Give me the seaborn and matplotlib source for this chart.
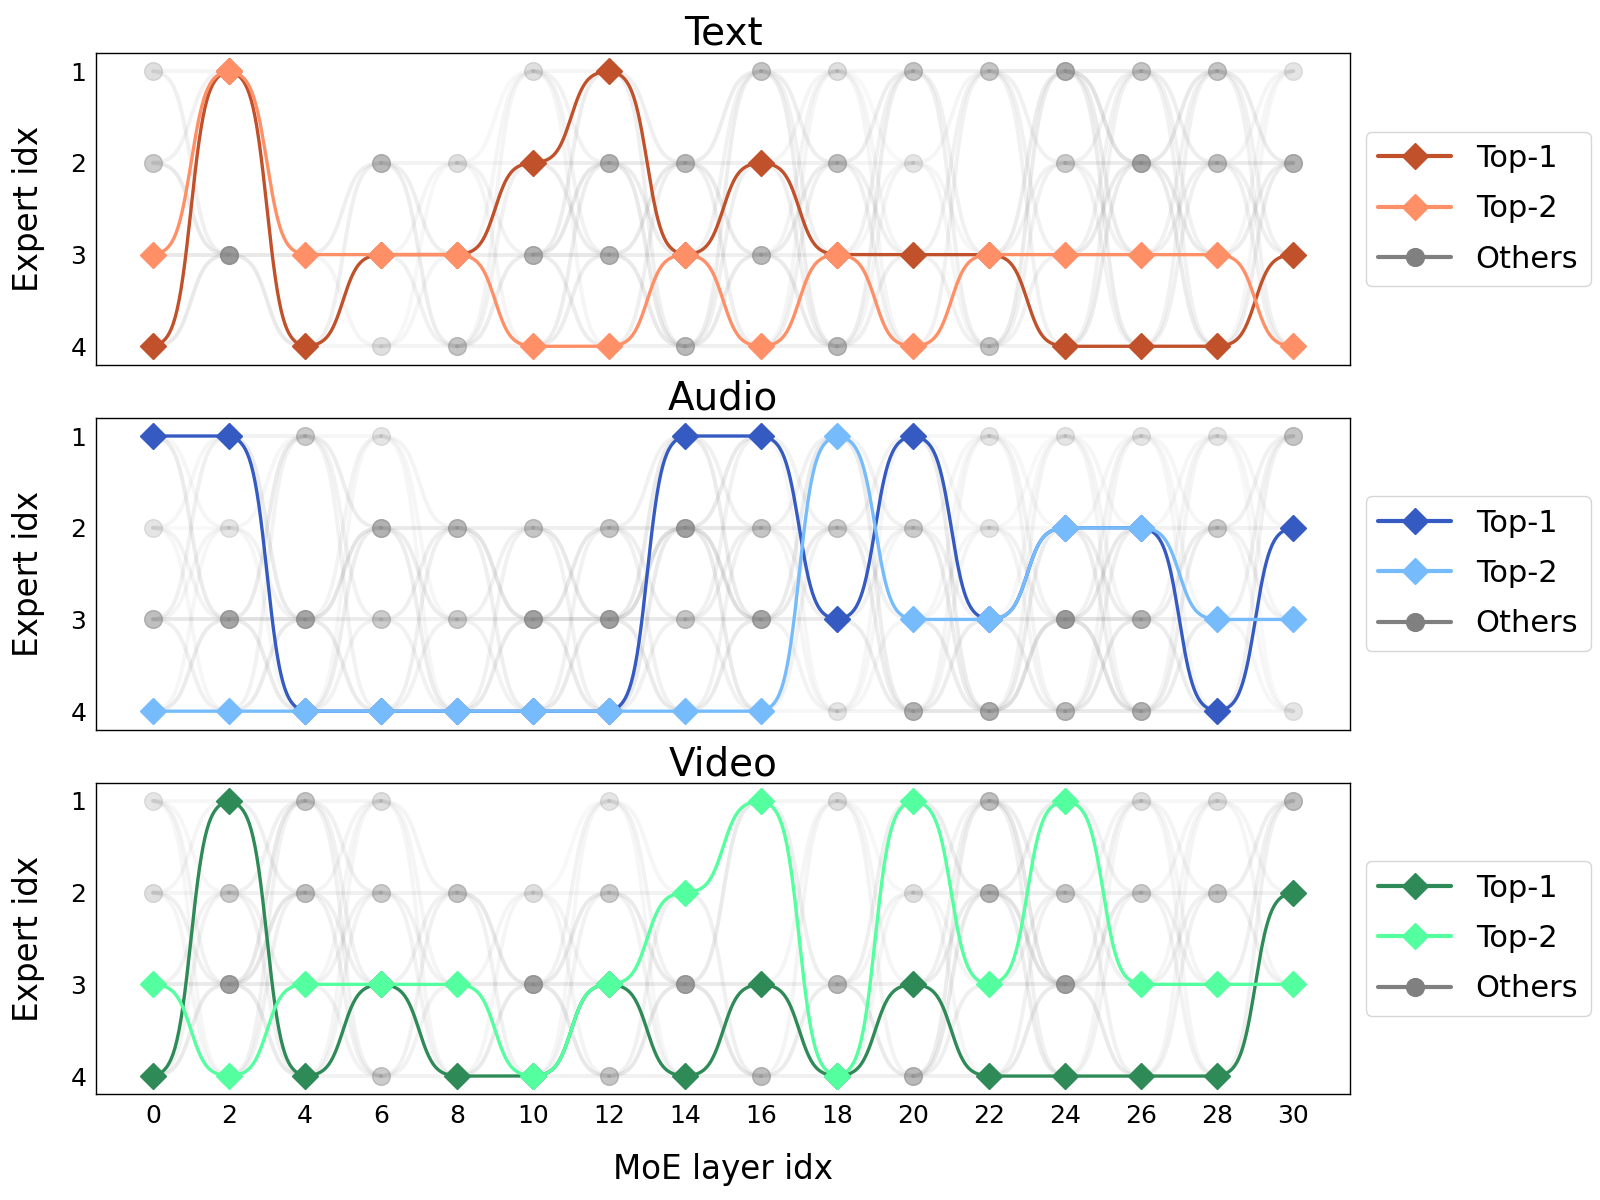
import numpy as np
import pandas as pd
import seaborn as sns
import matplotlib.pyplot as plt
from matplotlib.lines import Line2D

# MoE layers shown on the x axis (every second layer)
layers = list(range(0, 31, 2))

# Expert chosen as top-1 / top-2 at each layer
text_top1 = [4, 1, 4, 3, 3, 2, 1, 3, 2, 3, 3, 3, 4, 4, 4, 3]
text_top2 = [3, 1, 3, 3, 3, 4, 4, 3, 4, 3, 4, 3, 3, 3, 3, 4]
audio_top1 = [1, 1, 4, 4, 4, 4, 4, 1, 1, 3, 1, 3, 2, 2, 4, 2]
audio_top2 = [4, 4, 4, 4, 4, 4, 4, 4, 4, 1, 3, 3, 2, 2, 3, 3]
video_top1 = [4, 1, 4, 3, 4, 4, 3, 4, 3, 4, 3, 4, 4, 4, 4, 2]
video_top2 = [3, 4, 3, 3, 3, 4, 3, 2, 1, 4, 1, 3, 1, 3, 3, 3]

# weight of the remaining ("Others") experts, rows = expert 1..4, 0 = not shown
text_others = [
    [.25, 0, 0, 0, 0, .25, 0, 0, .45, .25, .45, .45, .65, .45, .45, .2],
    [.4, 0, 0, .55, .25, 0, .6, .55, 0, .5, .2, 0, .4, .7, .5, .6],
    [0, .8, 0, 0, 0, .6, .6, 0, .55, 0, 0, 0, 0, 0, 0, 0],
    [0, 0, 0, .25, .45, 0, 0, .55, 0, .55, 0, .45, 0, 0, 0, 0],
]
audio_others = [
    [0, 0, .4, .2, 0, 0, 0, 0, 0, 0, 0, .2, .2, .2, .2, .45],
    [.2, .2, 0, .6, .55, .45, .45, .75, .45, .4, .4, .2, 0, 0, .4, 0],
    [.5, .7, .7, .4, .4, .75, .75, .45, .7, 0, 0, 0, .8, .6, 0, 0],
    [0, 0, 0, 0, 0, 0, 0, 0, 0, .2, .6, .65, .55, .6, 0, .2],
]
video_others = [
    [.2, 0, .45, .25, 0, 0, .2, 0, 0, .25, 0, .5, 0, .25, .25, .5],
    [.25, .4, .5, .4, .45, .25, .4, 0, 0, 0, .25, .6, .45, .4, .45, 0],
    [0, .75, 0, 0, 0, .75, 0, .75, 0, .55, 0, 0, .75, 0, 0, 0],
    [0, 0, 0, .4, 0, 0, .45, 0, .5, 0, .55, 0, 0, 0, 0, 0],
]

titles = ['Text', 'Audio', 'Video']
top1_colors = ['#c0512a', '#355bc3', '#2e8b57']
top2_colors = ['#ff8f66', '#76bbfc', '#54ff9f']
tops = [(text_top1, text_top2), (audio_top1, audio_top2), (video_top1, video_top2)]
others = [text_others, audio_others, video_others]

sns.set_style("white")
plt.rcParams['font.family'] = ['DejaVu Sans']
plt.rcParams['text.color'] = 'black'
plt.rcParams['axes.labelcolor'] = 'black'
plt.rcParams['xtick.color'] = 'black'
plt.rcParams['ytick.color'] = 'black'
plt.rcParams['axes.edgecolor'] = 'black'
plt.rcParams['axes.linewidth'] = 1.0


def smooth(x0, x1, y0, y1, k=10, n=80):
    # sigmoid step between two neighbouring layers
    t = np.linspace(0, 1, n)
    s = 1 / (1 + np.exp(-k * (t - 0.5)))
    s = (s - s[0]) / (s[-1] - s[0])
    return x0 + t * (x1 - x0), y0 + s * (y1 - y0)


def route_frame(path):
    xs, ys = [], []
    for i in range(len(layers) - 1):
        x, y = smooth(layers[i], layers[i + 1], path[i], path[i + 1])
        xs.extend(x)
        ys.extend(y)
    return pd.DataFrame({'layer': xs, 'expert': ys})


fig, axes = plt.subplots(3, 1, figsize=(16, 12), sharex=True)
fig.subplots_adjust(left=0.06, right=0.844, top=0.956, bottom=0.088, hspace=0.17)

for ax, title, (t1, t2), oth, c1, c2 in zip(axes, titles, tops, others, top1_colors, top2_colors):
    # weight of every expert slot: tops fixed, others from the table
    w = np.array(oth, dtype=float)
    is_top = np.zeros_like(w, dtype=bool)
    for j in range(len(layers)):
        w[t1[j] - 1, j] = 0.4
        w[t2[j] - 1, j] = 0.4
        is_top[t1[j] - 1, j] = True
        is_top[t2[j] - 1, j] = True

    # faint routing curves of the other experts
    for j in range(len(layers) - 1):
        for a in range(4):
            for b in range(4):
                if w[a, j] == 0 or w[b, j + 1] == 0:
                    continue
                if is_top[a, j] and is_top[b, j + 1]:
                    continue
                x, y = smooth(layers[j], layers[j + 1], a + 1, b + 1)
                ax.plot(x, y, color='gray', lw=2.8,
                        alpha=0.035 + 0.42 * w[a, j] * w[b, j + 1], zorder=1)

    # other experts as grey dots
    for a in range(4):
        for j in range(len(layers)):
            if oth[a][j] > 0:
                ax.plot(layers[j], a + 1, 'o', color='gray', ms=12.8,
                        alpha=oth[a][j], zorder=2)

    sns.lineplot(data=route_frame(t1), x='layer', y='expert', ax=ax, color=c1,
                 lw=2.4, sort=False, estimator=None, zorder=3)
    ax.plot(layers, t1, 'D', color=c1, ms=12.8, zorder=4)
    sns.lineplot(data=route_frame(t2), x='layer', y='expert', ax=ax, color=c2,
                 lw=2.4, sort=False, estimator=None, zorder=5)
    ax.plot(layers, t2, 'D', color=c2, ms=12.8, zorder=6)

    ax.set_title(title, fontsize=28, pad=5)
    ax.set_xlim(-1.5, 31.5)
    ax.set_ylim(4.2, 0.8)
    ax.set_yticks([1, 2, 3, 4])
    ax.set_xticks(layers)
    ax.tick_params(labelsize=18)
    ax.set_ylabel('Expert idx', fontsize=23.5, labelpad=18)
    ax.set_xlabel('')

    handles = [
        Line2D([0], [0], color=c1, marker='D', lw=3, ms=12.8),
        Line2D([0], [0], color=c2, marker='D', lw=3, ms=12.8),
        Line2D([0], [0], color='gray', marker='o', lw=3, ms=12.8),
    ]
    ax.legend(handles, ['Top-1', 'Top-2', 'Others'], loc='center left',
              bbox_to_anchor=(1.0, 0.5), fontsize=22, handlelength=2.4,
              labelspacing=0.7)

axes[-1].set_xlabel('MoE layer idx', fontsize=23.5, labelpad=18)

plt.savefig('out.png', dpi=100)
